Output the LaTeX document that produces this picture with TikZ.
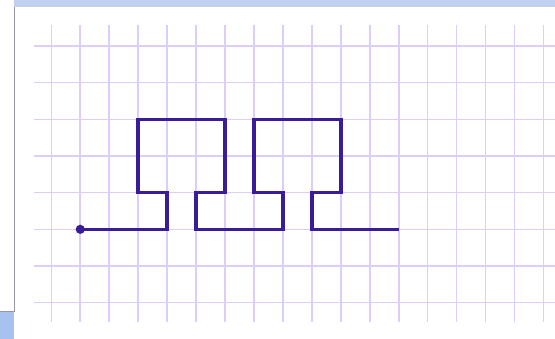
\documentclass[tikz,border=0pt]{standalone}
\definecolor{gridc}{RGB}{220,205,250}
\definecolor{pathc}{RGB}{58,28,152}
\definecolor{bandc}{RGB}{192,208,240}
\definecolor{cornerc}{RGB}{168,194,240}
\definecolor{edgec}{RGB}{150,152,168}
\begin{document}
\begin{tikzpicture}[x=1pt,y=-1pt,
  gridline/.style={draw=gridc,line width=1.6pt},
  walk/.style={draw=pathc,line width=3.4pt,line join=miter}]
\useasboundingbox (0,0) rectangle (555,339);
\fill[white] (0,0) rectangle (555,339);
% window chrome
\fill[bandc] (14,0) rectangle (555,6);
\fill[cornerc] (0,312) rectangle (14,339);
\draw[edgec,line width=1pt] (14,6) -- (14,312) -- (0,312);
\draw[edgec!50,line width=0.6pt] (14,6) -- (555,6);
% grid
\foreach \i in {0,...,17}
  \draw[gridline] ({51.3+28.95*\i},25) -- ({51.3+28.95*\i},322);
\foreach \j in {0,...,7}
  \draw[gridline] (34,{46+36.67*\j}) -- (555,{46+36.67*\j});
% walk
\begin{scope}[shift={(51.3,46)},x=28.95pt,y=-36.67pt]
\coordinate (s) at (1,5);
\coordinate (e) at (12,5);
\draw[walk] (s) -- (4,5) -- (4,4) -- (3,4) -- (3,2) -- (6,2) -- (6,4) -- (5,4)
  -- (5,5) -- (8,5) -- (8,4) -- (7,4) -- (7,2) -- (10,2) -- (10,4) -- (9,4)
  -- (9,5) -- (e);
\fill[pathc] (s) circle (4.6pt);
\end{scope}
\end{tikzpicture}
\end{document}
